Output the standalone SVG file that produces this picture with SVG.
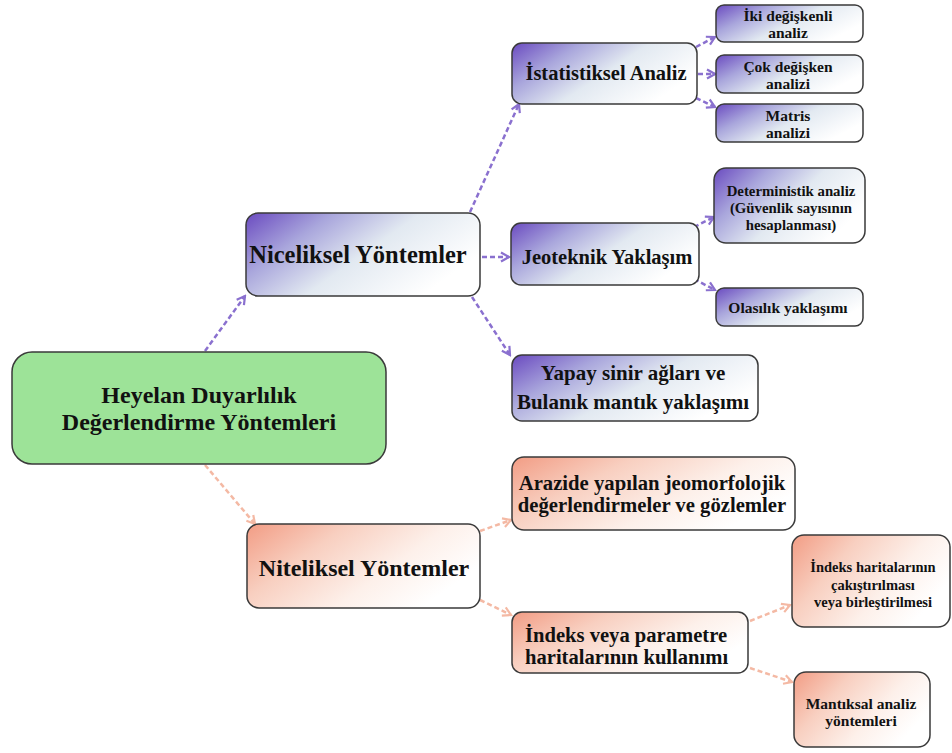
<svg xmlns="http://www.w3.org/2000/svg" width="952" height="753" viewBox="0 0 952 753">
<defs>
<linearGradient id="gp" x1="0" y1="0" x2="1" y2="0.5">
<stop offset="0" stop-color="#6a4ac0"/>
<stop offset="0.3" stop-color="#a9a6dc"/>
<stop offset="0.6" stop-color="#e2e9f1"/>
<stop offset="1" stop-color="#ffffff"/>
</linearGradient>
<linearGradient id="gr" x1="0" y1="0" x2="1" y2="0.5">
<stop offset="0" stop-color="#f29c84"/>
<stop offset="0.35" stop-color="#f8cfc0"/>
<stop offset="0.7" stop-color="#fdf0ea"/>
<stop offset="1" stop-color="#ffffff"/>
</linearGradient>
<marker id="ap" viewBox="0 0 12 12" refX="10" refY="6" markerWidth="12" markerHeight="12" markerUnits="userSpaceOnUse" orient="auto">
<path d="M2,1.5 L10,6 L2,10.5" fill="none" stroke="#8a70cf" stroke-width="2.2"/>
</marker>
<marker id="ar" viewBox="0 0 12 12" refX="10" refY="6" markerWidth="12" markerHeight="12" markerUnits="userSpaceOnUse" orient="auto">
<path d="M2,1.5 L10,6 L2,10.5" fill="none" stroke="#f4b9a4" stroke-width="2.2"/>
</marker>
</defs>
<rect width="952" height="753" fill="#ffffff"/>
<g id="connectors" fill="none" stroke-width="2.5" stroke-dasharray="5 3">
<g stroke="#8a70cf" marker-end="url(#ap)">
<line x1="205" y1="351" x2="245" y2="296"/>
<line x1="470" y1="212" x2="519" y2="104"/>
<line x1="482" y1="257" x2="509" y2="257"/>
<line x1="472" y1="297" x2="510" y2="355"/>
<line x1="696" y1="47" x2="715" y2="37"/>
<line x1="698" y1="74" x2="715" y2="74"/>
<line x1="696" y1="98" x2="715" y2="107"/>
<line x1="694" y1="227" x2="714" y2="217"/>
<line x1="694" y1="279" x2="715" y2="290"/>
</g>
<g stroke="#f4b9a4" marker-end="url(#ar)">
<line x1="205" y1="465" x2="255" y2="524"/>
<line x1="480" y1="531" x2="511" y2="520"/>
<line x1="480" y1="600" x2="511" y2="615"/>
<line x1="750" y1="621" x2="790" y2="605"/>
<line x1="750" y1="668" x2="792" y2="682"/>
</g>
</g>
<g stroke="#3a3a3a" stroke-width="1.5">
<g id="root">
<rect fill="#9de398" x="12" y="352" width="374" height="112" rx="20"/>
<text x="199" y="403" font-size="24" font-weight="bold" font-family="Liberation Serif" text-anchor="middle" fill="#111" stroke="none">Heyelan Duyarlılık</text>
<text x="199" y="430" font-size="24" font-weight="bold" font-family="Liberation Serif" text-anchor="middle" fill="#111" stroke="none">Değerlendirme Yöntemleri</text>
</g>
<g id="niceliksel">
<rect fill="url(#gp)" x="246" y="213" width="234" height="83" rx="12"/>
<text x="358" y="263" font-size="24.5" font-weight="bold" font-family="Liberation Serif" text-anchor="middle" fill="#111" stroke="none">Niceliksel Yöntemler</text>
</g>
<g id="niteliksel">
<rect fill="url(#gr)" x="247" y="524" width="233" height="84" rx="12"/>
<text x="364" y="576" font-size="24" font-weight="bold" font-family="Liberation Serif" text-anchor="middle" fill="#111" stroke="none">Niteliksel Yöntemler</text>
</g>
<g id="istatistiksel">
<rect fill="url(#gp)" x="512" y="43" width="185" height="61" rx="10"/>
<text x="606" y="80" font-size="20.5" font-weight="bold" font-family="Liberation Serif" text-anchor="middle" fill="#111" stroke="none">İstatistiksel Analiz</text>
</g>
<g id="iki">
<rect fill="url(#gp)" x="716" y="5" width="147" height="37" rx="8"/>
<text x="788" y="21" font-size="15.5" font-weight="bold" font-family="Liberation Serif" text-anchor="middle" fill="#111" stroke="none">İki değişkenli</text>
<text x="788" y="38" font-size="15.5" font-weight="bold" font-family="Liberation Serif" text-anchor="middle" fill="#111" stroke="none">analiz</text>
</g>
<g id="cok">
<rect fill="url(#gp)" x="716" y="55" width="147" height="38" rx="8"/>
<text x="788" y="72" font-size="15.5" font-weight="bold" font-family="Liberation Serif" text-anchor="middle" fill="#111" stroke="none">Çok değişken</text>
<text x="788" y="89" font-size="15.5" font-weight="bold" font-family="Liberation Serif" text-anchor="middle" fill="#111" stroke="none">analizi</text>
</g>
<g id="matris">
<rect fill="url(#gp)" x="716" y="104" width="147" height="38" rx="8"/>
<text x="788" y="121" font-size="15.5" font-weight="bold" font-family="Liberation Serif" text-anchor="middle" fill="#111" stroke="none">Matris</text>
<text x="788" y="138" font-size="15.5" font-weight="bold" font-family="Liberation Serif" text-anchor="middle" fill="#111" stroke="none">analizi</text>
</g>
<g id="jeoteknik">
<rect fill="url(#gp)" x="511" y="223" width="188" height="62" rx="10"/>
<text x="607" y="264" font-size="20.5" font-weight="bold" font-family="Liberation Serif" text-anchor="middle" fill="#111" stroke="none">Jeoteknik Yaklaşım</text>
</g>
<g id="deterministik">
<rect fill="url(#gp)" x="714" y="168" width="151" height="75" rx="12"/>
<text x="791" y="196" font-size="14.8" font-weight="bold" font-family="Liberation Serif" text-anchor="middle" fill="#111" stroke="none">Deterministik analiz</text>
<text x="791" y="213" font-size="14.8" font-weight="bold" font-family="Liberation Serif" text-anchor="middle" fill="#111" stroke="none">(Güvenlik sayısının</text>
<text x="791" y="230" font-size="14.8" font-weight="bold" font-family="Liberation Serif" text-anchor="middle" fill="#111" stroke="none">hesaplanması)</text>
</g>
<g id="olasilik">
<rect fill="url(#gp)" x="716" y="288" width="147" height="38" rx="8"/>
<text x="788" y="313" font-size="15.5" font-weight="bold" font-family="Liberation Serif" text-anchor="middle" fill="#111" stroke="none">Olasılık yaklaşımı</text>
</g>
<g id="yapay">
<rect fill="url(#gp)" x="512" y="355" width="246" height="66" rx="10"/>
<text x="633" y="380" font-size="21" font-weight="bold" font-family="Liberation Serif" text-anchor="middle" fill="#111" stroke="none">Yapay sinir ağları ve</text>
<text x="633" y="409" font-size="21" font-weight="bold" font-family="Liberation Serif" text-anchor="middle" fill="#111" stroke="none">Bulanık mantık yaklaşımı</text>
</g>
<g id="arazide">
<rect fill="url(#gr)" x="512" y="457" width="283" height="73" rx="12"/>
<text x="652" y="490" font-size="20.7" font-weight="bold" font-family="Liberation Serif" text-anchor="middle" fill="#111" stroke="none">Arazide yapılan jeomorfolojik</text>
<text x="652" y="512" font-size="20.7" font-weight="bold" font-family="Liberation Serif" text-anchor="middle" fill="#111" stroke="none">değerlendirmeler ve gözlemler</text>
</g>
<g id="indeks">
<rect fill="url(#gr)" x="512" y="612" width="236" height="61" rx="10"/>
<text x="525" y="642" font-size="20.6" font-weight="bold" font-family="Liberation Serif" fill="#111" stroke="none">İndeks veya parametre</text>
<text x="525" y="664" font-size="20.6" font-weight="bold" font-family="Liberation Serif" fill="#111" stroke="none">haritalarının kullanımı</text>
</g>
<g id="indeksharita">
<rect fill="url(#gr)" x="792" y="535" width="158" height="92" rx="12"/>
<text x="873" y="572" font-size="14.5" font-weight="bold" font-family="Liberation Serif" text-anchor="middle" fill="#111" stroke="none">İndeks haritalarının</text>
<text x="873" y="590" font-size="14.5" font-weight="bold" font-family="Liberation Serif" text-anchor="middle" fill="#111" stroke="none">çakıştırılması</text>
<text x="873" y="607" font-size="14.5" font-weight="bold" font-family="Liberation Serif" text-anchor="middle" fill="#111" stroke="none">veya birleştirilmesi</text>
</g>
<g id="mantiksal">
<rect fill="url(#gr)" x="794" y="672" width="136" height="75" rx="12"/>
<text x="861" y="709" font-size="15.5" font-weight="bold" font-family="Liberation Serif" text-anchor="middle" fill="#111" stroke="none">Mantıksal analiz</text>
<text x="861" y="726" font-size="15.5" font-weight="bold" font-family="Liberation Serif" text-anchor="middle" fill="#111" stroke="none">yöntemleri</text>
</g>
</g>
</svg>
